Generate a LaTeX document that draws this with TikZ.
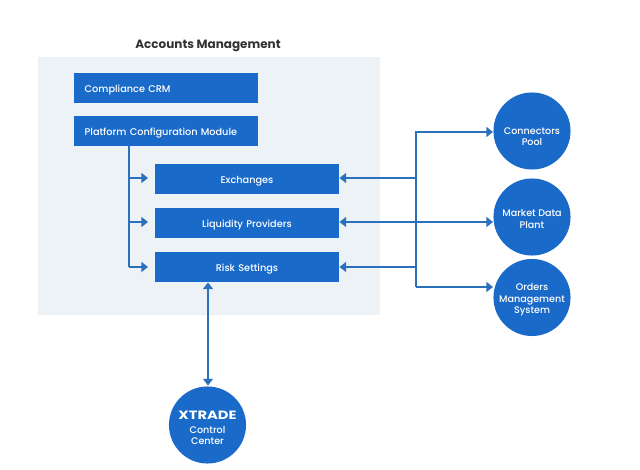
\documentclass[tikz,border=0pt]{standalone}
\usepackage{fontspec}
\setmainfont{Poppins}
\newfontfamily\medfont{Poppins Medium}
\usetikzlibrary{arrows.meta}
\definecolor{boxblue}{HTML}{1A6ACA}
\definecolor{panelgrey}{HTML}{EDF2F6}
\definecolor{linkblue}{HTML}{2B70BC}
\definecolor{titlegrey}{HTML}{333333}
\tikzset{
  panelbox/.style={fill=panelgrey,draw=none,minimum width=256.5pt,minimum height=193.5pt,inner sep=0pt},
  modbox/.style={fill=boxblue,draw=none,minimum height=22.5pt,inner ysep=0pt,text=white,text height=7.5pt,text depth=0pt,font=\medfont\fontsize{7.3}{9}\selectfont},
  leftbox/.style={modbox,text width=122pt,inner xsep=8pt,align=left},
  midbox/.style={modbox,text width=138pt,inner xsep=0pt,align=center},
  hub/.style={circle,fill=boxblue,draw=none,minimum size=57.8pt,inner sep=0pt},
  hubtext/.style={text=white,align=center,inner sep=0pt,font=\medfont\fontsize{7.2}{8.6}\selectfont},
  logotext/.style={text=white,inner sep=0pt,xscale=1.22,font=\bfseries\fontsize{9}{10}\selectfont},
  link/.style={draw=linkblue,line width=1.2pt},
  tip/.style={-{Triangle[length=5pt,width=7.5pt]}},
  twotip/.style={{Triangle[length=5pt,width=7.5pt]}-{Triangle[length=5pt,width=7.5pt]}}
}
\begin{document}
\begin{tikzpicture}[x=0.75pt,y=-0.75pt]
\useasboundingbox (0,0) rectangle (640,470);
\node[panelbox] (panel) at (209,186) {};
\node[font=\bfseries\fontsize{9}{11}\selectfont,text=titlegrey,inner sep=0pt] (title) at (208,46) {Accounts Management};
\node[leftbox] (crm) at (166,88) {Compliance CRM};
\node[leftbox] (pcm) at (166,131) {Platform Configuration Module};
\node[midbox] (ex) at (247,179) {Exchanges};
\node[midbox] (lp) at (247,223) {Liquidity Providers};
\node[midbox] (rs) at (247,267) {Risk Settings};
\node[hub] (cp) at (532,131) {};
\node[hubtext] (cptext) at (532,136.5) {Connectors\\Pool};
\node[hub] (md) at (532,217) {};
\node[hubtext] (mdtext) at (532,219) {Market Data\\Plant};
\node[hub] (om) at (532,297.5) {};
\node[hubtext] (omtext) at (532,300) {Orders\\Management\\System};
\node[hub] (cc) at (207.5,425) {};
\node[logotext] (cclogo) at (207.5,415) {XTRADE};
\node[hubtext] (cctext) at (207.5,435.5) {Control\\Center};
% platform module trunk
\coordinate (trunktop) at (129,146);
\coordinate (trunkex) at (129,178);
\coordinate (trunklp) at (129,222);
\coordinate (trunkrs) at (129,267);
\coordinate (inex) at (148,178);
\coordinate (inlp) at (148,222);
\coordinate (inrs) at (148,267);
\draw[link] (trunktop) -- (trunkrs);
\draw[link,tip] (trunkex) -- (inex);
\draw[link,tip] (trunklp) -- (inlp);
\draw[link,tip] (trunkrs) -- (inrs);
% right bus
\coordinate (bustop) at (416,132);
\coordinate (busbot) at (416,287);
\coordinate (busex) at (416,178);
\coordinate (busrs) at (416,267);
\coordinate (exr) at (339.5,178);
\coordinate (lpr) at (339.5,222);
\coordinate (rsr) at (339.5,267);
\coordinate (cpl) at (493,132);
\coordinate (mdl) at (493,222);
\coordinate (oml) at (493,287);
\draw[link,tip] (busbot) -- (bustop) -- (cpl);
\draw[link,tip] (busbot) -- (oml);
\draw[link,tip] (busex) -- (exr);
\draw[link,tip] (busrs) -- (rsr);
\draw[link,twotip] (lpr) -- (mdl);
% control centre link
\coordinate (rsb) at (208,282.5);
\coordinate (cct) at (208,385.5);
\draw[link,twotip] (rsb) -- (cct);
\end{tikzpicture}
\end{document}
